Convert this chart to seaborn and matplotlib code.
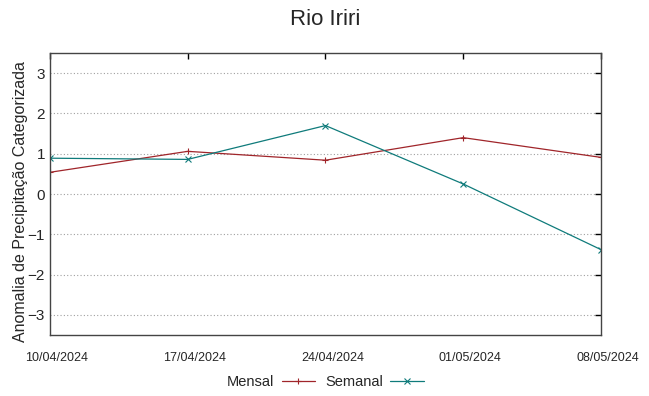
import pandas as pd
import matplotlib
matplotlib.use('Agg')
import matplotlib.pyplot as plt
import matplotlib.dates as mdates
import matplotlib.transforms as mtransforms
import seaborn as sns

sns.set_style("white")
plt.rcParams['font.family'] = ['Liberation Sans', 'DejaVu Sans']

# data
datas = ['2024-04-10', '2024-04-17', '2024-04-24', '2024-05-01', '2024-05-08']
mensal = [0.54, 1.06, 0.84, 1.40, 0.91]
semanal = [0.89, 0.86, 1.70, 0.25, -1.38]
y_ticks = [-3, -2, -1, 0, 1, 2, 3]


def main():
	df = pd.DataFrame({
		'Data': pd.to_datetime(datas * 2),
		'Valor': mensal + semanal,
		'Serie': ['Mensal'] * len(mensal) + ['Semanal'] * len(semanal),
	})

	fig = plt.figure(figsize=(6.49, 3.96), dpi=100)
	ax = fig.add_axes([0.077, 0.154, 0.849, 0.712])

	cores = {'Mensal': '#a0252a', 'Semanal': '#0f7b7b'}
	marcas = {'Mensal': '+', 'Semanal': 'x'}
	for nome, sub in df.groupby('Serie'):
		sns.lineplot(data=sub, x='Data', y='Valor', ax=ax, color=cores[nome],
					 marker=marcas[nome], markersize=5, markeredgewidth=0.8,
					 markeredgecolor=cores[nome], markerfacecolor=cores[nome],
					 linewidth=0.9, label=nome)

	ax.set_xlim(df['Data'].min(), df['Data'].max())
	ax.set_ylim(-3.5, 3.5)
	ax.set_xticks(pd.to_datetime(datas))
	ax.xaxis.set_major_formatter(mdates.DateFormatter('%d/%m/%Y'))
	ax.set_yticks(y_ticks)
	ax.grid(True, axis='y', linestyle=(0, (1, 2)), color='#a0a0a0', linewidth=0.8)
	ax.tick_params(axis='both', direction='in', length=4, color='black',
				   top=True, right=True, width=1)
	ax.tick_params(axis='x', labelsize=9, pad=12)
	ax.tick_params(axis='y', labelsize=11)
	# gnuplot-like: date labels sit a bit right of their tick
	desloc = mtransforms.ScaledTranslation(7 / 100, 0, fig.dpi_scale_trans)
	for lbl in ax.get_xticklabels():
		lbl.set_transform(lbl.get_transform() + desloc)
	for s in ax.spines.values():
		s.set_color('#444444')
		s.set_linewidth(1)

	ax.set_xlabel('')
	ax.set_ylabel('Anomalia de Precipitação Categorizada', fontsize=11.5)
	ax.yaxis.set_label_coords(-0.04, 0.475)
	ax.set_title('Rio Iriri', fontsize=16, pad=20)

	ax.legend(loc='center', bbox_to_anchor=(0.5, -0.167), ncol=2,
			  frameon=False, markerfirst=False, handlelength=2.3,
			  fontsize=10.5, columnspacing=0.7, handletextpad=0.5)

	fig.savefig('out.png', dpi=100)


if __name__ == "__main__":
	main()
